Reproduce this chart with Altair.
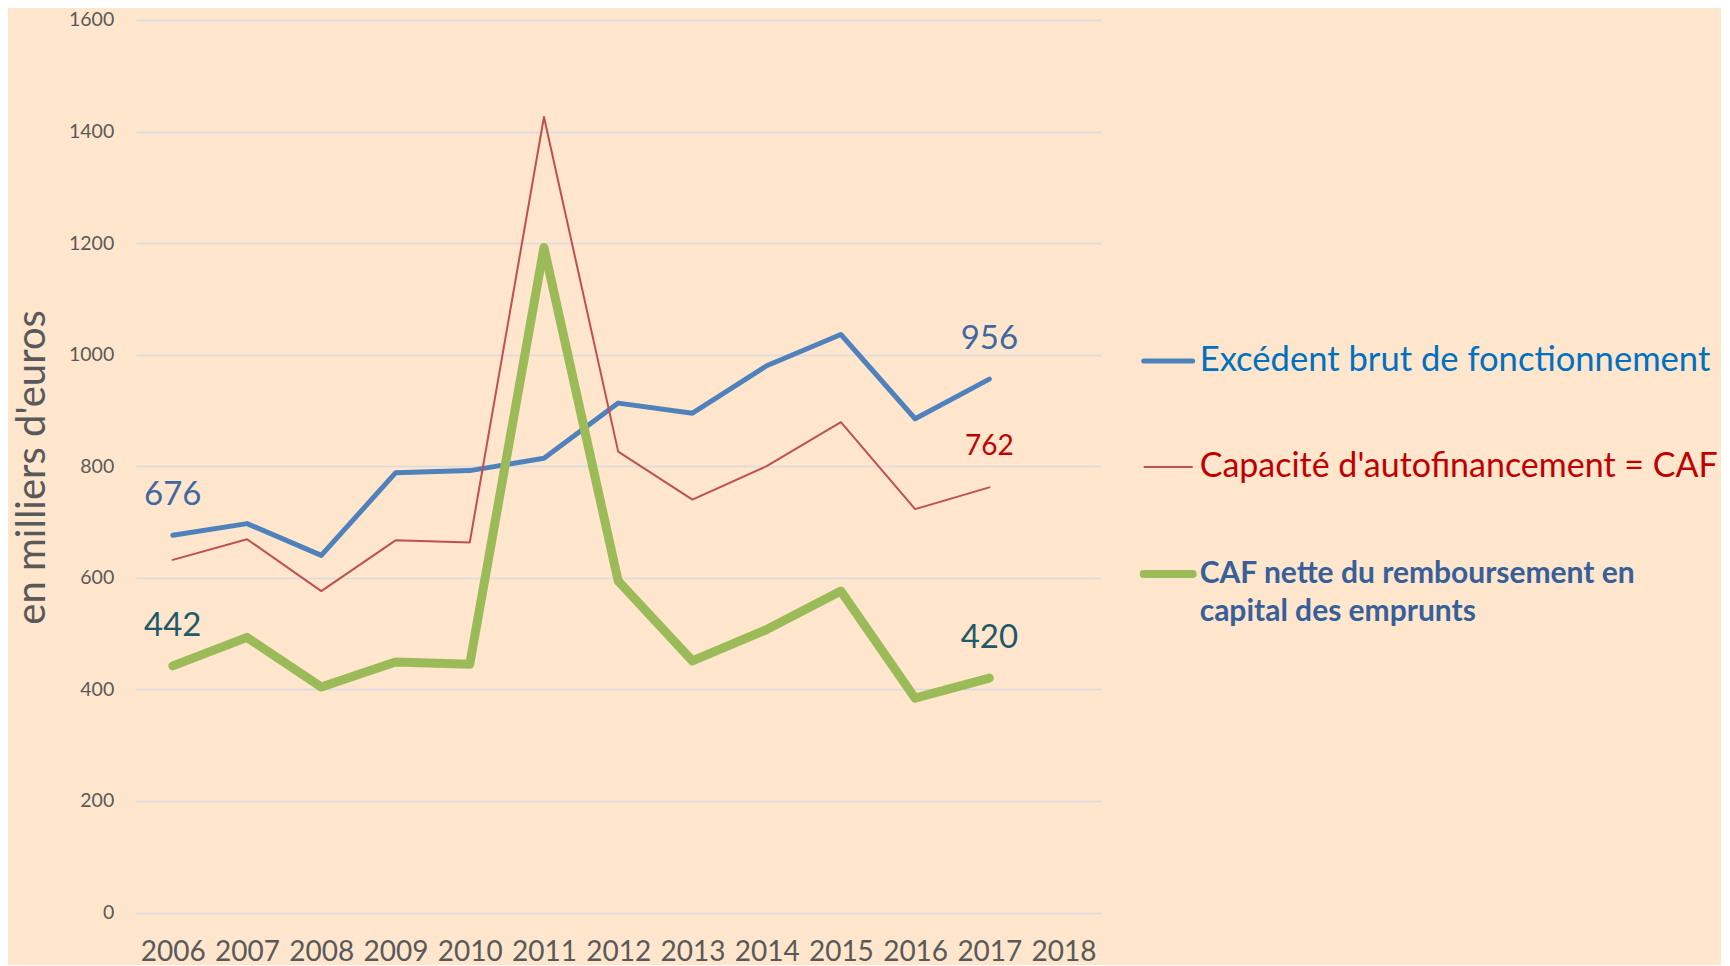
import altair as alt
import pandas as pd

years = ["2006", "2007", "2008", "2009", "2010", "2011", "2012",
         "2013", "2014", "2015", "2016", "2017"]
x_domain = years + ["2018"]

ebf = [676, 697, 640, 788, 792, 814, 913, 895, 980, 1036, 885, 956]
caf = [632, 669, 576, 667, 663, 1426, 826, 740, 800, 879, 723, 762]
caf_nette = [442, 493, 404, 449, 445, 1192, 594, 451, 507, 576, 384, 420]

series_names = ["Excédent brut de fonctionnement",
                "Capacité d'autofinancement = CAF",
                "CAF nette du remboursement en capital des emprunts"]
legend_lines = [["Excédent brut de fonctionnement"],
                ["Capacité d'autofinancement = CAF"],
                ["CAF nette du remboursement en", "capital des emprunts"]]
y_ticks = [0, 200, 400, 600, 800, 1000, 1200, 1400, 1600]
line_colors = ["#4F81BD", "#C0504D", "#9BBB59"]
line_widths = [5, 2, 9]
label_colors = ["#3F68A3", "#C00000", "#215968"]
legend_text_colors = ["#0070C0", "#C00000", "#375F99"]
label_sizes = [33, 28, 33]

values = [ebf, caf, caf_nette]

W, H = 965, 892.5
BG = "#FFE6CD"
FONT = "Lato"

x_scale = alt.Scale(domain=x_domain, type="point", padding=0.5)
x_axis = alt.Axis(title=None, labelAngle=0, labelFontSize=28, labelColor="#595959",
                  labelFont=FONT, ticks=False, domain=False, grid=False,
                  labelPadding=26)
y_scale = alt.Scale(domain=[0, 1600], nice=False)
y_axis = alt.Axis(title="en milliers d'euros", values=y_ticks, format="d",
                  labelFontSize=19.5, labelColor="#595959", labelFont=FONT,
                  ticks=False, domain=False, gridColor="#D8DCE2", gridWidth=1.5,
                  labelPadding=22, titleFont=FONT, titleFontSize=40,
                  titleFontWeight="normal", titleColor="#595959",
                  titleX=-103, titleY=447, titleAngle=270, titleAlign="center",
                  titleBaseline="middle")

layers = []
for i, (name, vals) in enumerate(zip(series_names, values)):
    df = pd.DataFrame({"year": years, "value": vals, "series": name})
    line = alt.Chart(df).mark_line(color=line_colors[i], strokeWidth=line_widths[i],
                                   strokeJoin="round", strokeCap="round").encode(
        x=alt.X("year:O", scale=x_scale, axis=x_axis),
        y=alt.Y("value:Q", scale=y_scale, axis=y_axis),
    )
    layers.append(line)

# data labels (first and last point of each series)
for i, (name, vals) in enumerate(zip(series_names, values)):
    if i == 1:
        lab = pd.DataFrame({"year": [years[-1]], "value": [vals[-1]]})
    else:
        lab = pd.DataFrame({"year": [years[0], years[-1]], "value": [vals[0], vals[-1]]})
    lab["label"] = lab["value"].astype(str)
    txt = alt.Chart(lab).mark_text(font=FONT, fontSize=label_sizes[i], color=label_colors[i],
                                   dy=-40, baseline="middle", align="center").encode(
        x=alt.X("year:O", scale=x_scale, axis=x_axis),
        y=alt.Y("value:Q", scale=y_scale, axis=y_axis),
        text="label:N",
    )
    layers.append(txt)

# manual legend
leg_y = [341, 447, 554]
for i in range(3):
    rule_df = pd.DataFrame({"series": [series_names[i]]})
    rule = alt.Chart(rule_df).mark_rule(color=line_colors[i], strokeWidth=line_widths[i] if i != 2 else 8,
                                        strokeCap="round" if i != 1 else "butt").encode(
        x=alt.value(1008), x2=alt.value(1057), y=alt.value(leg_y[i]))
    layers.append(rule)
    for j, t in enumerate(legend_lines[i]):
        tdf = pd.DataFrame({"t": [t]})
        tx = alt.Chart(tdf).mark_text(
            font=FONT, fontSize=34.6 if i == 0 else (34 if i == 1 else 30),
            fontWeight="bold" if i == 2 else "normal",
            color=legend_text_colors[i], align="left", baseline="middle").encode(
            x=alt.value(1064), y=alt.value(leg_y[i] + j * 38), text="t:N")
        layers.append(tx)

chart = alt.layer(*layers).properties(
    width=W, height=H,
    background=BG,
    padding={"left": 127.7, "top": 11.9, "right": 620, "bottom": 53},
    autosize=alt.AutoSizeParams(type="none"),
).configure_view(stroke=None, fill=BG)

chart.save("out.html", embed_options={"renderer": "svg", "actions": False})
